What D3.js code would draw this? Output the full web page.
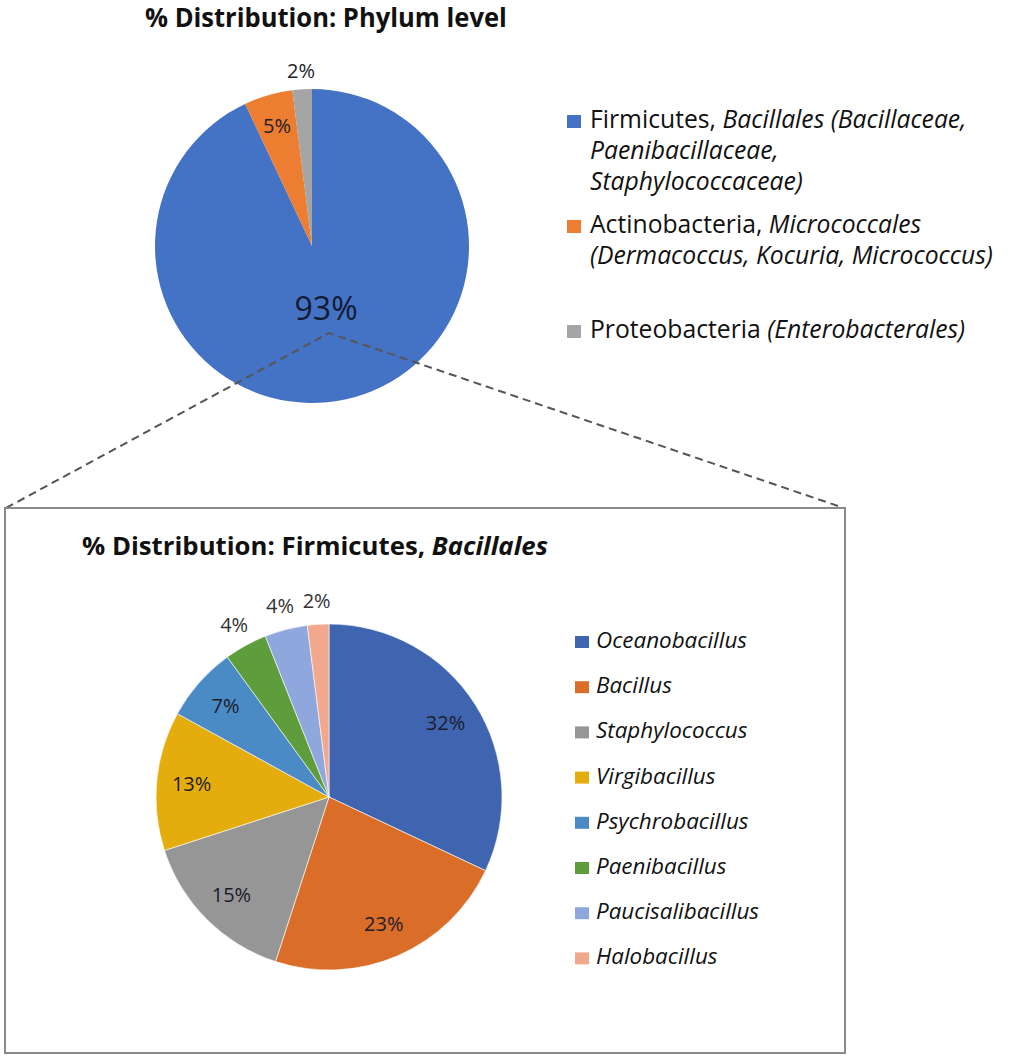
<!DOCTYPE html>
<html>
<head>
<meta charset="utf-8">
<script src="https://cdn.jsdelivr.net/npm/d3@7"></script>
<style>
  html, body { margin: 0; padding: 0; background: #fff; }
  svg { display: block; }
  text { font-family: "Open Sans", "Noto Sans", sans-serif; }
</style>
</head>
<body>
<svg id="chart" width="1013" height="1059"></svg>
<script>
// ---------------- DATA ----------------
const phylumTitle = "% Distribution: Phylum level";
const phylumNames = ["Firmicutes", "Actinobacteria", "Proteobacteria"];
const phylumValues = [93, 5, 2];
const phylumColors = ["#4472C4", "#ED7D31", "#A5A5A5"];
// legend lines: each line is a list of [text, italic]
const phylumLegend = [
  [[["Firmicutes, ", false], ["Bacillales (Bacillaceae,", true]],
   [["Paenibacillaceae,", true]],
   [["Staphylococcaceae)", true]]],
  [[["Actinobacteria, ", false], ["Micrococcales", true]],
   [["(Dermacoccus, Kocuria, Micrococcus)", true]]],
  [[["Proteobacteria ", false], ["(Enterobacterales)", true]]]
];

const genusTitle = [["% Distribution: Firmicutes, ", false], ["Bacillales", true]];
const genusNames = ["Oceanobacillus", "Bacillus", "Staphylococcus", "Virgibacillus",
                    "Psychrobacillus", "Paenibacillus", "Paucisalibacillus", "Halobacillus"];
const genusValues = [32, 23, 15, 13, 7, 4, 4, 2];
const genusColors = ["#3F65B1", "#DA6D27", "#969696", "#E4AD0D",
                     "#4A8BC6", "#5E9C3C", "#8EA8DE", "#F2A88D"];

// ---------------- LAYOUT ----------------
const svg = d3.select("#chart");

function condenseTo(textSel, x0, target) {
  const w = textSel.node().getComputedTextLength();
  const sx = target / w;
  textSel.attr("transform", `translate(${x0},0) scale(${sx},1) translate(${-x0},0)`);
}

// ---- Top title
const t1 = svg.append("text")
  .attr("x", 145).attr("y", 27)
  .attr("font-weight", "bold")
  .attr("font-size", 26)
  .attr("fill", "#111")
  .text(phylumTitle);
condenseTo(t1, 145, 362);

// ---- Top pie
const topC = {x: 312, y: 246}, topR = 157;
const pie = d3.pie().sort(null).value(d => d);
const topArcs = pie(phylumValues);
const topArc = d3.arc().innerRadius(0).outerRadius(topR);
const gTop = svg.append("g").attr("transform", `translate(${topC.x},${topC.y})`);
gTop.selectAll("path").data(topArcs).enter().append("path")
  .attr("d", topArc)
  .attr("fill", (d, i) => phylumColors[i]);

gTop.selectAll("text.lbl").data(topArcs).enter().append("text")
  .attr("class", "lbl")
  .each(function(d) {
    const v = d.data;
    const a = (d.startAngle + d.endAngle) / 2;
    let rr, fs;
    if (v > 50) { rr = topR * 0.41; fs = 32; }
    else if (v >= 5) { rr = topR * 0.8; fs = 20; }
    else { rr = topR + 19; fs = 20; }
    d3.select(this)
      .attr("x", Math.sin(a) * rr)
      .attr("y", -Math.cos(a) * rr)
      .attr("dy", "0.36em")
      .attr("text-anchor", "middle")
      .attr("font-size", fs)
      .attr("fill", v > 50 ? "#141a33" : "#222")
      .text(v + "%");
  });

// ---- Top legend
const legX = 590, sqX = 567;
const legBaselines = [[128, 159, 190], [233, 264], [338]];
const legLineTexts = [];
phylumLegend.forEach((lines, gi) => {
  svg.append("rect")
    .attr("x", sqX).attr("y", legBaselines[gi][0] - 13)
    .attr("width", 14).attr("height", 13)
    .attr("fill", phylumColors[gi]);
  lines.forEach((parts, li) => {
    const t = svg.append("text")
      .attr("x", legX).attr("y", legBaselines[gi][li])
      .attr("font-size", 21).attr("fill", "#111");
    parts.forEach(p => t.append("tspan").attr("font-style", p[1] ? "italic" : "normal").text(p[0]));
    legLineTexts.push(t);
  });
});
// scale legend font so the longest line matches reference width
{
  const ref = legLineTexts[4];
  const w = ref.node().getComputedTextLength();
  const fs = 21 * 403 / w;
  legLineTexts.forEach(t => t.attr("font-size", fs));
}

// ---- Dashed connector lines
const apex = {x: 329, y: 333};
const box = {x: 5, y: 508, w: 840, h: 545};
svg.append("path")
  .attr("d", `M${box.x + 1},${box.y} L${apex.x},${apex.y} L${box.x + box.w - 1},${box.y}`)
  .attr("fill", "none")
  .attr("stroke", "#555")
  .attr("stroke-width", 2)
  .attr("stroke-dasharray", "8,5");

// ---- Box
svg.append("rect")
  .attr("x", box.x).attr("y", box.y)
  .attr("width", box.w).attr("height", box.h)
  .attr("fill", "none")
  .attr("stroke", "#8a8a8a")
  .attr("stroke-width", 2);

// ---- Bottom title
const t2 = svg.append("text")
  .attr("x", 82).attr("y", 555)
  .attr("font-weight", "bold")
  .attr("font-size", 25)
  .attr("fill", "#111");
genusTitle.forEach(p => t2.append("tspan").attr("font-style", p[1] ? "italic" : "normal").text(p[0]));
condenseTo(t2, 82, 466);

// ---- Bottom pie
const botC = {x: 329, y: 797}, botR = 173;
const botArcs = pie(genusValues);
const botArc = d3.arc().innerRadius(0).outerRadius(botR);
const gBot = svg.append("g").attr("transform", `translate(${botC.x},${botC.y})`);
gBot.selectAll("path").data(botArcs).enter().append("path")
  .attr("d", botArc)
  .attr("fill", (d, i) => genusColors[i])
  .attr("stroke", "#fff")
  .attr("stroke-width", 0.6);

gBot.selectAll("text.lbl").data(botArcs).enter().append("text")
  .attr("class", "lbl")
  .each(function(d) {
    const v = d.data;
    const a = (d.startAngle + d.endAngle) / 2;
    const rr = v >= 7 ? 138 : botR + 24;
    d3.select(this)
      .attr("x", Math.sin(a) * rr)
      .attr("y", -Math.cos(a) * rr)
      .attr("dy", "0.36em")
      .attr("text-anchor", "middle")
      .attr("font-size", 20)
      .attr("fill", v >= 7 ? "#1c1c2a" : "#333")
      .text(v + "%");
  });

// ---- Bottom legend
const gl = svg.append("g");
const blX = 596, bsqX = 575, bl0 = 648, blStep = 45.2;
const gTexts = [];
genusNames.forEach((n, i) => {
  const y = bl0 + i * blStep;
  gl.append("rect")
    .attr("x", bsqX).attr("y", y - 12)
    .attr("width", 14).attr("height", 12)
    .attr("fill", genusColors[i]);
  const t = gl.append("text")
    .attr("x", blX).attr("y", y)
    .attr("font-size", 19)
    .attr("font-style", "italic")
    .attr("fill", "#111")
    .text(n);
  gTexts.push(t);
});
{
  const w = gTexts[0].node().getComputedTextLength();
  const fs = 19 * 151 / w;
  gTexts.forEach(t => t.attr("font-size", fs));
}
</script>
</body>
</html>
